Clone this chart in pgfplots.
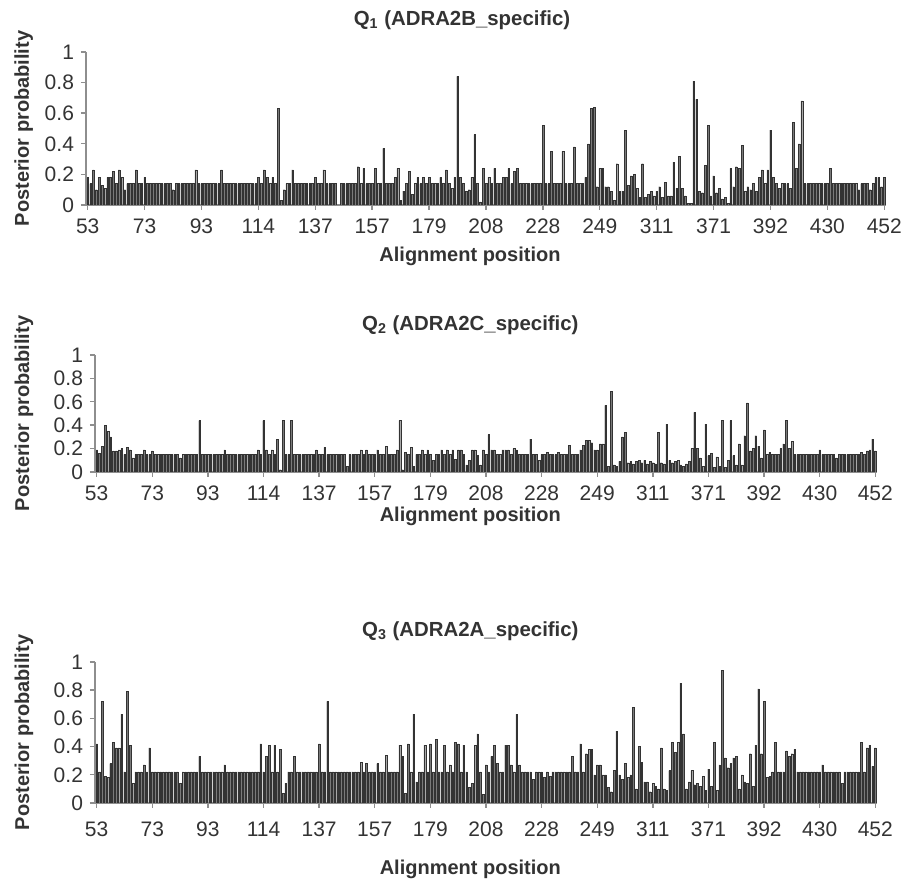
\documentclass[border=0pt]{standalone}
\usepackage{fontspec}
\setmainfont{Liberation Sans}
\usepackage{pgfplots}
\usepackage{pgfplotstable}
\pgfplotsset{compat=1.18}
\definecolor{axgray}{HTML}{8E8E8E}
\definecolor{bargray}{HTML}{7A7A7A}
\definecolor{txtgray}{HTML}{333333}

\pgfplotstableread[row sep=\\]{y\\
0.18\\0.14\\0.23\\0.10\\0.18\\0.13\\0.11\\0.18\\0.18\\0.22\\
0.14\\0.23\\0.18\\0.10\\0.14\\0.14\\0.14\\0.23\\0.14\\0.14\\
0.18\\0.14\\0.14\\0.14\\0.14\\0.14\\0.14\\0.14\\0.14\\0.14\\
0.10\\0.14\\0.14\\0.14\\0.14\\0.14\\0.14\\0.14\\0.23\\0.14\\
0.14\\0.14\\0.14\\0.14\\0.14\\0.14\\0.14\\0.23\\0.14\\0.14\\
0.14\\0.14\\0.14\\0.14\\0.14\\0.14\\0.14\\0.14\\0.14\\0.14\\
0.18\\0.14\\0.23\\0.18\\0.14\\0.18\\0.14\\0.63\\0.03\\0.10\\
0.14\\0.14\\0.23\\0.14\\0.14\\0.14\\0.14\\0.14\\0.14\\0.14\\
0.18\\0.14\\0.14\\0.23\\0.14\\0.14\\0.14\\0.14\\0.00\\0.14\\
0.14\\0.14\\0.14\\0.14\\0.14\\0.25\\0.14\\0.24\\0.14\\0.14\\
0.14\\0.24\\0.14\\0.14\\0.37\\0.14\\0.14\\0.14\\0.18\\0.24\\
0.03\\0.09\\0.14\\0.22\\0.07\\0.14\\0.18\\0.14\\0.18\\0.14\\
0.18\\0.14\\0.14\\0.14\\0.18\\0.14\\0.23\\0.14\\0.11\\0.18\\
0.84\\0.18\\0.14\\0.09\\0.10\\0.18\\0.46\\0.14\\0.02\\0.24\\
0.14\\0.18\\0.14\\0.24\\0.14\\0.14\\0.18\\0.18\\0.24\\0.14\\
0.22\\0.24\\0.14\\0.14\\0.14\\0.14\\0.14\\0.14\\0.14\\0.14\\
0.52\\0.14\\0.14\\0.35\\0.14\\0.14\\0.14\\0.35\\0.14\\0.14\\
0.14\\0.38\\0.14\\0.14\\0.14\\0.18\\0.40\\0.63\\0.64\\0.12\\
0.24\\0.24\\0.12\\0.12\\0.09\\0.03\\0.27\\0.09\\0.09\\0.49\\
0.13\\0.19\\0.20\\0.11\\0.05\\0.27\\0.05\\0.07\\0.09\\0.06\\
0.09\\0.12\\0.05\\0.15\\0.06\\0.06\\0.28\\0.11\\0.32\\0.11\\
0.06\\0.01\\0.01\\0.81\\0.69\\0.09\\0.08\\0.26\\0.52\\0.06\\
0.19\\0.08\\0.11\\0.04\\0.05\\0.01\\0.24\\0.12\\0.25\\0.24\\
0.39\\0.09\\0.12\\0.10\\0.14\\0.09\\0.18\\0.23\\0.14\\0.23\\
0.49\\0.18\\0.14\\0.11\\0.14\\0.14\\0.14\\0.11\\0.54\\0.24\\
0.40\\0.68\\0.14\\0.14\\0.14\\0.14\\0.14\\0.14\\0.14\\0.14\\
0.14\\0.24\\0.14\\0.14\\0.14\\0.14\\0.14\\0.14\\0.14\\0.14\\
0.14\\0.10\\0.14\\0.14\\0.14\\0.10\\0.14\\0.18\\0.18\\0.12\\
0.18\\
}\dataA

\pgfplotstableread[row sep=\\]{y\\
0.19\\0.16\\0.22\\0.40\\0.35\\0.30\\0.18\\0.18\\0.19\\0.20\\
0.15\\0.21\\0.19\\0.12\\0.15\\0.15\\0.15\\0.19\\0.15\\0.15\\
0.18\\0.15\\0.15\\0.15\\0.15\\0.15\\0.15\\0.15\\0.15\\0.15\\
0.12\\0.15\\0.15\\0.15\\0.15\\0.15\\0.15\\0.44\\0.15\\0.15\\
0.15\\0.15\\0.15\\0.15\\0.15\\0.15\\0.19\\0.15\\0.15\\0.15\\
0.15\\0.15\\0.15\\0.15\\0.15\\0.15\\0.15\\0.15\\0.19\\0.15\\
0.44\\0.19\\0.15\\0.19\\0.15\\0.28\\0.02\\0.44\\0.15\\0.15\\
0.44\\0.15\\0.15\\0.15\\0.15\\0.15\\0.15\\0.15\\0.15\\0.19\\
0.15\\0.15\\0.21\\0.15\\0.15\\0.15\\0.15\\0.15\\0.15\\0.15\\
0.05\\0.15\\0.15\\0.15\\0.15\\0.19\\0.15\\0.19\\0.15\\0.15\\
0.15\\0.19\\0.15\\0.15\\0.22\\0.15\\0.15\\0.15\\0.19\\0.44\\
0.02\\0.17\\0.15\\0.21\\0.05\\0.15\\0.15\\0.19\\0.15\\0.19\\
0.15\\0.10\\0.15\\0.15\\0.19\\0.15\\0.19\\0.15\\0.19\\0.11\\
0.19\\0.19\\0.15\\0.06\\0.10\\0.19\\0.19\\0.14\\0.06\\0.19\\
0.15\\0.32\\0.19\\0.19\\0.15\\0.15\\0.19\\0.19\\0.19\\0.15\\
0.20\\0.19\\0.15\\0.15\\0.15\\0.15\\0.28\\0.15\\0.15\\0.10\\
0.15\\0.15\\0.17\\0.15\\0.15\\0.15\\0.17\\0.15\\0.15\\0.15\\
0.23\\0.15\\0.15\\0.15\\0.19\\0.23\\0.27\\0.27\\0.25\\0.19\\
0.19\\0.24\\0.24\\0.57\\0.05\\0.69\\0.06\\0.05\\0.09\\0.30\\
0.34\\0.08\\0.09\\0.07\\0.09\\0.10\\0.08\\0.10\\0.07\\0.09\\
0.08\\0.07\\0.34\\0.08\\0.07\\0.41\\0.10\\0.08\\0.09\\0.10\\
0.06\\0.05\\0.07\\0.09\\0.20\\0.51\\0.20\\0.12\\0.05\\0.41\\
0.14\\0.16\\0.04\\0.13\\0.05\\0.44\\0.04\\0.10\\0.44\\0.14\\
0.06\\0.24\\0.06\\0.31\\0.59\\0.18\\0.20\\0.31\\0.22\\0.12\\
0.36\\0.15\\0.17\\0.15\\0.15\\0.15\\0.20\\0.24\\0.44\\0.20\\
0.26\\0.15\\0.15\\0.15\\0.15\\0.15\\0.15\\0.15\\0.15\\0.15\\
0.19\\0.15\\0.15\\0.15\\0.15\\0.15\\0.12\\0.15\\0.15\\0.15\\
0.15\\0.15\\0.15\\0.15\\0.15\\0.17\\0.15\\0.18\\0.19\\0.28\\
0.18\\
}\dataB

\pgfplotstableread[row sep=\\]{y\\
0.42\\0.22\\0.72\\0.19\\0.18\\0.28\\0.43\\0.39\\0.39\\0.63\\
0.22\\0.79\\0.41\\0.14\\0.22\\0.22\\0.22\\0.27\\0.22\\0.39\\
0.22\\0.22\\0.22\\0.22\\0.22\\0.22\\0.22\\0.22\\0.22\\0.22\\
0.14\\0.22\\0.22\\0.22\\0.22\\0.22\\0.22\\0.33\\0.22\\0.22\\
0.22\\0.22\\0.22\\0.22\\0.22\\0.22\\0.27\\0.22\\0.22\\0.22\\
0.22\\0.22\\0.22\\0.22\\0.22\\0.22\\0.22\\0.22\\0.22\\0.42\\
0.22\\0.33\\0.41\\0.22\\0.41\\0.22\\0.38\\0.07\\0.14\\0.22\\
0.22\\0.33\\0.22\\0.22\\0.22\\0.22\\0.22\\0.22\\0.22\\0.22\\
0.42\\0.22\\0.22\\0.72\\0.22\\0.22\\0.22\\0.22\\0.22\\0.22\\
0.22\\0.22\\0.22\\0.22\\0.22\\0.29\\0.22\\0.28\\0.22\\0.22\\
0.22\\0.28\\0.22\\0.22\\0.34\\0.22\\0.22\\0.22\\0.22\\0.41\\
0.33\\0.07\\0.42\\0.22\\0.63\\0.15\\0.22\\0.22\\0.41\\0.22\\
0.42\\0.22\\0.45\\0.22\\0.22\\0.41\\0.22\\0.27\\0.22\\0.43\\
0.42\\0.22\\0.41\\0.22\\0.11\\0.14\\0.41\\0.49\\0.22\\0.06\\
0.27\\0.22\\0.33\\0.41\\0.28\\0.22\\0.22\\0.41\\0.41\\0.27\\
0.22\\0.63\\0.27\\0.22\\0.22\\0.22\\0.22\\0.17\\0.22\\0.22\\
0.22\\0.18\\0.22\\0.19\\0.22\\0.22\\0.22\\0.22\\0.22\\0.22\\
0.22\\0.33\\0.22\\0.22\\0.42\\0.22\\0.35\\0.38\\0.38\\0.20\\
0.27\\0.27\\0.20\\0.20\\0.11\\0.08\\0.23\\0.51\\0.20\\0.17\\
0.28\\0.18\\0.20\\0.68\\0.10\\0.40\\0.29\\0.15\\0.15\\0.08\\
0.14\\0.12\\0.10\\0.39\\0.10\\0.09\\0.23\\0.43\\0.36\\0.43\\
0.85\\0.49\\0.10\\0.15\\0.23\\0.13\\0.14\\0.12\\0.19\\0.09\\
0.24\\0.12\\0.43\\0.09\\0.27\\0.94\\0.32\\0.25\\0.28\\0.32\\
0.33\\0.10\\0.20\\0.15\\0.14\\0.35\\0.12\\0.41\\0.81\\0.35\\
0.72\\0.18\\0.19\\0.22\\0.43\\0.22\\0.22\\0.22\\0.37\\0.33\\
0.35\\0.38\\0.22\\0.22\\0.22\\0.22\\0.22\\0.22\\0.22\\0.22\\
0.22\\0.27\\0.22\\0.22\\0.22\\0.22\\0.22\\0.22\\0.14\\0.22\\
0.22\\0.22\\0.22\\0.22\\0.22\\0.43\\0.22\\0.39\\0.41\\0.26\\
0.39\\
}\dataC

\pgfplotsset{
  panel/.style={
    scale only axis,
    xmin=-0.6, xmax=280.6, ymin=0, ymax=1,
    axis x line*=bottom, axis y line*=left,
    axis line style={axgray, line width=0.7pt, -},
    xtick={0,20,...,280},
    xticklabels={53,73,93,114,137,157,179,208,228,249,311,371,392,430,452},
    ytick={0,0.2,0.4,0.6,0.8,1},
    yticklabels={0,0.2,0.4,0.6,0.8,1},
    tick align=outside, major tick length=2.5pt,
    tick style={axgray, line width=0.7pt},
    ticklabel style={font=\fontsize{10.5}{12}\selectfont, text=txtgray},
    xticklabel style={yshift=-1pt},
    title style={font=\bfseries\fontsize{10.2}{12}\selectfont, text=txtgray, anchor=center},
    xlabel style={font=\bfseries\fontsize{10}{12}\selectfont, text=txtgray, anchor=center},
    ylabel style={font=\bfseries\fontsize{10}{12}\selectfont, text=txtgray, anchor=center},
    ylabel={Posterior probability},
    xlabel={Alignment position},
    ybar, bar width=0.6,
  },
  bars/.style={fill=bargray, draw=black!80, line width=0.12pt},
}

\begin{document}
\begin{tikzpicture}
\path[use as bounding box] (0,0) rectangle (451pt,440.5pt);

\begin{axis}[panel, at={(43pt,338pt)}, anchor=south west,
  width=400pt, height=76.5pt,
  title={Q\textsubscript{1} (ADRA2B\_specific)},
  title style={at={(axis description cs:0.47,1)}, yshift=10pt},
  xlabel style={at={(axis description cs:0.48,0)}, yshift=-25.5pt},
  ylabel style={at={(axis description cs:-0.078,0.5)}},
]
\addplot[bars] table[x expr=\coordindex, y=y]{\dataA};
\end{axis}

\begin{axis}[panel, at={(47.5pt,204.5pt)}, anchor=south west,
  width=391pt, height=58.5pt,
  title={Q\textsubscript{2} (ADRA2C\_specific)},
  title style={at={(axis description cs:0.48,1)}, yshift=9pt},
  xlabel style={at={(axis description cs:0.48,0)}, yshift=-22pt},
  ylabel style={at={(axis description cs:-0.091,0.5)}},
]
\addplot[bars] table[x expr=\coordindex, y=y]{\dataB};
\end{axis}

\begin{axis}[panel, at={(47.5pt,39pt)}, anchor=south west,
  width=391pt, height=70.5pt,
  title={Q\textsubscript{3} (ADRA2A\_specific)},
  title style={at={(axis description cs:0.48,1)}, yshift=9.5pt},
  xlabel style={at={(axis description cs:0.48,0)}, yshift=-33pt},
  xticklabel style={yshift=-2.5pt},
  ylabel style={at={(axis description cs:-0.091,0.5)}},
]
\addplot[bars] table[x expr=\coordindex, y=y]{\dataC};
\end{axis}
\end{tikzpicture}
\end{document}
